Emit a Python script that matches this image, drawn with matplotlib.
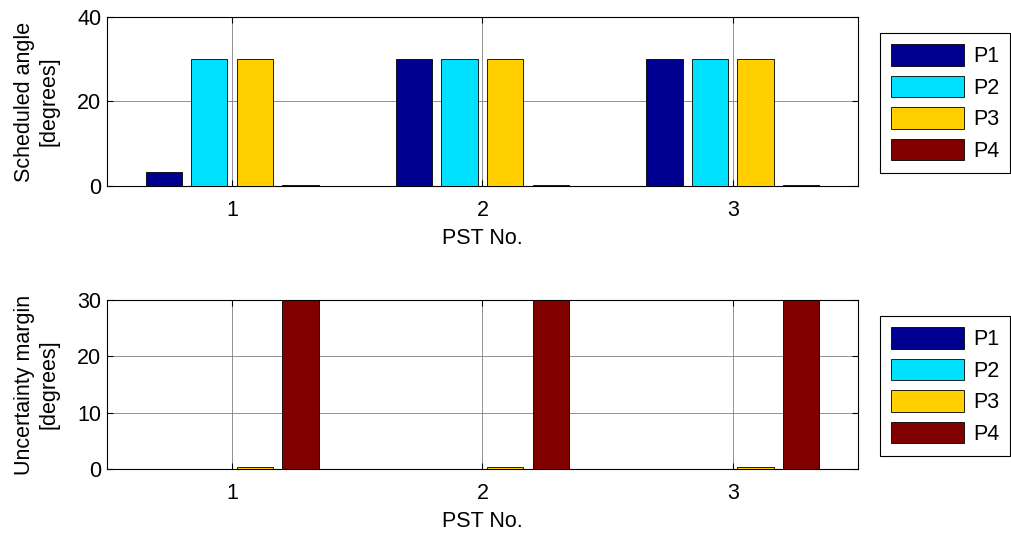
import numpy as np
import matplotlib.pyplot as plt

plt.rcParams['font.family'] = ['Liberation Sans', 'DejaVu Sans']

# Data
pst = [1, 2, 3]
series = ['P1', 'P2', 'P3', 'P4']
colors = ['#000090', '#00E0FF', '#FFCF00', '#800000']

scheduled = {
    'P1': [3.3, 30, 30],
    'P2': [30, 30, 30],
    'P3': [30, 30, 30],
    'P4': [0.3, 0.3, 0.3],
}
margin = {
    'P1': [0.0, 0.0, 0.0],
    'P2': [0.0, 0.0, 0.0],
    'P3': [0.3, 0.3, 0.3],
    'P4': [30, 30, 30],
}

fig = plt.figure(figsize=(10.12, 5.34), dpi=100)
ax1 = fig.add_axes([0.1057, 0.652, 0.742, 0.316])
ax2 = fig.add_axes([0.1057, 0.122, 0.742, 0.316])

offsets = [-0.273, -0.091, 0.091, 0.273]
bar_w = 0.145
fs = 15.5


def draw(ax, data, ylim, yticks, ylabel, legend_y):
    x = np.array(pst)
    for name, off, c in zip(series, offsets, colors):
        ax.bar(x + off, data[name], width=bar_w, color=c,
               edgecolor='black', linewidth=0.6, label=name, zorder=3)
    ax.set_xlim(0.5, 3.5)
    ax.set_ylim(*ylim)
    ax.set_xticks(pst)
    ax.set_yticks(yticks)
    ax.grid(True, color='#808080', linewidth=0.6, zorder=0)
    ax.set_axisbelow(True)
    ax.tick_params(direction='in', top=True, right=True, labelsize=fs,
                   length=4, width=0.8)
    ax.tick_params(axis='x', pad=10)
    ax.tick_params(axis='y', pad=4)
    ax.set_xlabel('PST No.', fontsize=fs, labelpad=5)
    ax.set_ylabel(ylabel, fontsize=fs, labelpad=13, linespacing=1.2)
    for s in ax.spines.values():
        s.set_linewidth(0.8)
    leg = ax.legend(loc='center left', bbox_to_anchor=(0.870, legend_y),
                    bbox_transform=fig.transFigure, fontsize=fs,
                    handlelength=3.4, handleheight=1.15, labelspacing=0.4,
                    handletextpad=0.4, borderpad=0.5, borderaxespad=0,
                    fancybox=False, framealpha=1, edgecolor='black')
    leg.get_frame().set_linewidth(0.8)


draw(ax1, scheduled, (0, 40), [0, 20, 40], 'Scheduled angle\n[degrees]', 0.807)
draw(ax2, margin, (0, 30), [0, 10, 20, 30], 'Uncertainty margin\n[degrees]', 0.277)

plt.savefig('out.png', dpi=100)
